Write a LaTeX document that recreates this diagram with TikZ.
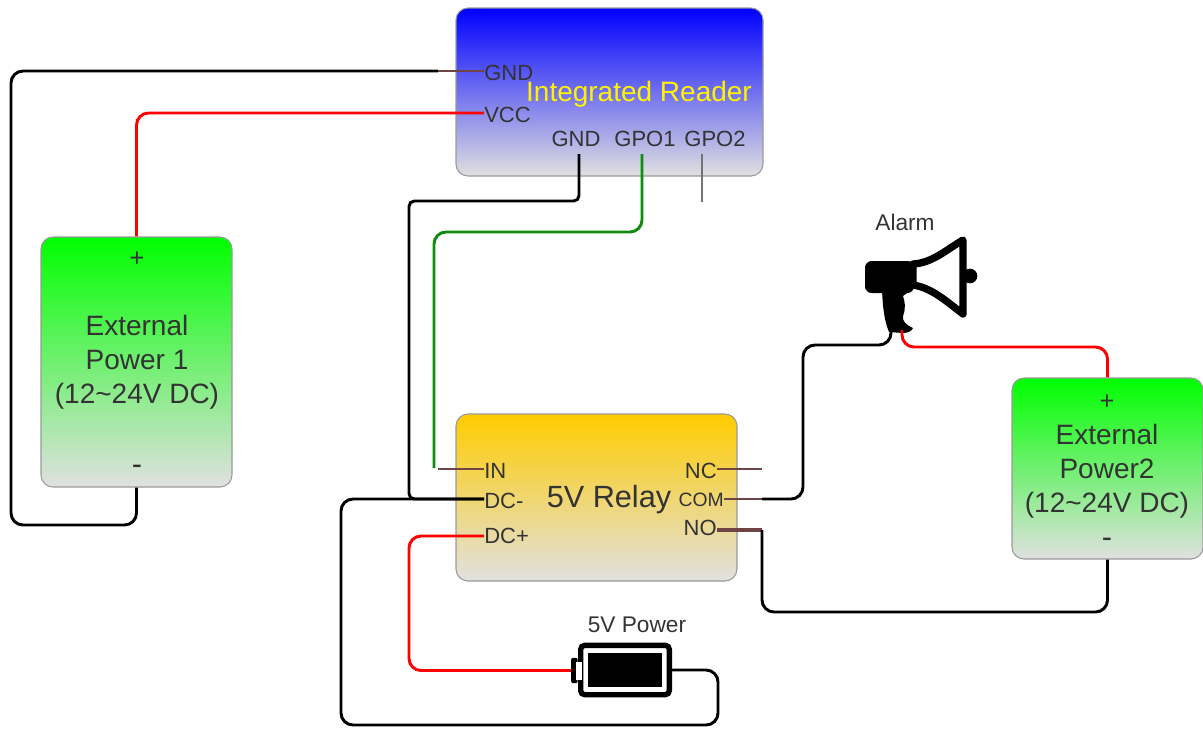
\documentclass[tikz,border=0pt]{standalone}
\usepackage{fontspec}
\setmainfont{Liberation Sans}
\definecolor{inkc}{HTML}{333333}
\definecolor{edgec}{HTML}{999999}
\definecolor{stubc}{HTML}{6E4444}
\definecolor{wiregreen}{HTML}{108A10}
\definecolor{relayc}{HTML}{FFCC00}
\newcommand{\bigtext}{\fontsize{21}{25.5}\selectfont}
\newcommand{\pintext}{\fontsize{16.5}{20}\selectfont}
\newcommand{\captext}{\fontsize{17}{20}\selectfont}

\begin{document}
\begin{tikzpicture}[x=0.75pt,y=-0.75pt,
    box/.style={draw=edgec,line width=0.8pt,rounded corners=9pt,inner sep=0pt,bottom color=black!12},
    pin/.style={inner sep=0pt,text=inkc,font=\pintext,text height=14pt,text depth=0pt},
    big/.style={inner sep=0pt,text=inkc,font=\bigtext,align=center},
    tag/.style={inner sep=0pt,text=inkc,font=\captext},
    wire/.style={line width=2.2pt,rounded corners=9pt},
    stub/.style={line width=2.2pt,stubc}]
  \useasboundingbox (0,0) rectangle (1203,729);

  % boxes
  \node[box,top color=blue,minimum width=230.25pt,minimum height=126pt](reader) at (609.5,92) {};
  \node[box,top color=green,minimum width=143.25pt,minimum height=187.5pt](powerA) at (136.5,362) {};
  \node[box,top color=green,minimum width=143.25pt,minimum height=135.75pt](powerB) at (1107.5,468.5) {};
  \node[box,top color=relayc,minimum width=210.75pt,minimum height=125.25pt](relay) at (596.5,497.5) {};

  % reader pins
  \node[pin,anchor=west](rGndA) at (484,71) {GND};
  \node[pin,anchor=west](rVcc) at (484,113) {VCC};
  \node[pin,anchor=north](rGndB) at (576,128) {GND};
  \node[pin,anchor=north](rGpoA) at (645,128) {GPO1};
  \node[pin,anchor=north](rGpoB) at (715,128) {GPO2};
  \node[inner sep=0pt,text=yellow,font=\bigtext](rTitle) at (639,94) {Integrated Reader};

  % relay pins
  \node[pin,anchor=west](inPin) at (484,469) {IN};
  \node[pin,anchor=west](dcMinus) at (484,499) {DC-};
  \node[pin,anchor=west](dcPlus) at (484,534) {DC+};
  \node[pin,anchor=east](ncPin) at (717,469) {NC};
  \node[pin,anchor=east,font=\fontsize{14.5}{18}\selectfont](comPin) at (724,497) {COM};
  \node[pin,anchor=east](noPin) at (717,526) {NO};
  \node[big,font=\fontsize{23}{26}\selectfont](rlTitle) at (609,500) {5V Relay};

  % power texts
  \node[big,font=\fontsize{19}{22}\selectfont](aPlus) at (137,259) {+};
  \node[big](aText) at (137,362) {External\\Power 1\\(12\textasciitilde24V DC)};
  \node[big,font=\fontsize{23}{26}\selectfont](aMinus) at (137,470) {-};
  \node[big,font=\fontsize{19}{22}\selectfont](bPlus) at (1107,402) {+};
  \node[big](bText) at (1107,471) {External\\Power2\\(12\textasciitilde24V DC)};
  \node[big,font=\fontsize{23}{26}\selectfont](bMinus) at (1107,543) {-};

  % battery
  \node[draw,line width=4pt,rounded corners=3pt,minimum width=66.5pt,minimum height=37pt,inner sep=0pt](cell) at (625,670) {};
  \node[fill=black,minimum width=55.5pt,minimum height=25.5pt,inner sep=0pt](cellFill) at (625,670) {};
  \node[fill=black,rounded corners=1.5pt,minimum width=5pt,minimum height=19pt,inner sep=0pt,anchor=east](cellTip) at (578,670.5) {};
  \node[fill=white,minimum width=4.5pt,minimum height=13.5pt,inner sep=0pt,anchor=west](cellGap) at (576,670.5) {};
  \node[tag](batCap) at (637,625) {5V Power};

  % alarm
  \fill[rounded corners=5pt] (865,261) -- (914,261) -- (914,293) -- (865,293) -- cycle;
  \fill (882,290) .. controls (883,312) and (885,322) .. (889,332) -- (903,333) .. controls (908,333) and (912,331) .. (913,328)
    .. controls (906,325) and (902,321) .. (903,316) .. controls (906,308) and (905,302) .. (903,296) -- (914,288) -- cycle;
  \fill (970,276) circle (5.5pt);
  \draw[line width=5.5pt,line join=round,fill=white] (913,264) .. controls (932,263) and (946,250) .. (963,240) -- (963,314)
    .. controls (946,301) and (932,288) .. (913,285) -- cycle;
  \coordinate (hornL) at (891,332);
  \coordinate (hornR) at (902,330);
  \node[tag](alarmCap) at (905,222) {Alarm};

  % free ends
  \coordinate (gndJoin) at (438,71);
  \coordinate (gndTop) at (579,154);
  \coordinate (gpoTop) at (642,154);
  \coordinate (gpoStart) at (702,154);
  \coordinate (gpoEnd) at (702,202);
  \coordinate (inEnd) at (438,469);
  \coordinate (ncEnd) at (762,469);
  \coordinate (comEnd) at (762,499);
  \coordinate (noEnd) at (762,530);
  \coordinate (greenEnd) at (434,468);
  \coordinate (plusEnd) at (484,536);

  % wires
  \draw[wire] (gndJoin) -- (11,71) -- (11,525) -| (powerA.south);
  \draw[stub] (gndJoin) -- (rGndA.west);
  \draw[wire,red] (rVcc.west) -| (powerA.north);
  \draw[wire,rounded corners=4pt] (gndTop) -- (579,201) -- (409,201) -- (409,499) -- (dcMinus.west);
  \draw[wire,wiregreen] (gpoTop) -- (642,232) -- (434,232) -- (greenEnd);
  \draw[wire,black!55] (gpoStart) -- (gpoEnd);
  \draw[stub] (inEnd) -- (inPin.west);
  \draw[wire] (dcMinus.west) -- (341,499) -- (341,725) -- (718,725) |- (cell.east);
  \draw[wire,red] (plusEnd) -- (409,536) |- (cellTip.west);
  \draw[stub] (ncPin.east) -- (ncEnd);
  \draw[stub] (comPin.east |- comEnd) -- (comEnd);
  \draw[wire] (comEnd) -- (803,499) -- (803,345) -- (891,345) -- (hornL);
  \draw[stub,line width=2.6pt] (noPin.east |- noEnd) -- (noEnd);
  \draw[wire] (noEnd) -- (762,612) -| (powerB.south);
  \draw[wire,red] (hornR) -- (902,347) -| (powerB.north);
\end{tikzpicture}
\end{document}
